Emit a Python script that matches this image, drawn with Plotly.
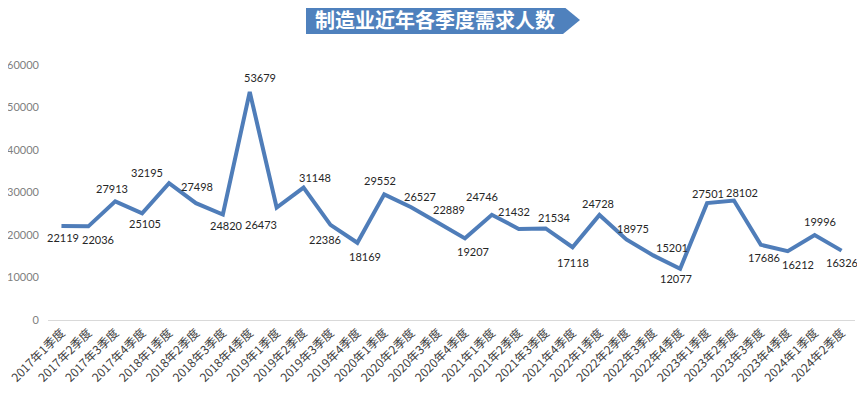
import plotly.graph_objects as go

categories = [
    "2017年1季度", "2017年2季度", "2017年3季度", "2017年4季度",
    "2018年1季度", "2018年2季度", "2018年3季度", "2018年4季度",
    "2019年1季度", "2019年2季度", "2019年3季度", "2019年4季度",
    "2020年1季度", "2020年2季度", "2020年3季度", "2020年4季度",
    "2021年1季度", "2021年2季度", "2021年3季度", "2021年4季度",
    "2022年1季度", "2022年2季度", "2022年3季度", "2022年4季度",
    "2023年1季度", "2023年2季度", "2023年3季度", "2023年4季度",
    "2024年1季度", "2024年2季度",
]
demand = [
    22119, 22036, 27913, 25105,
    32195, 27498, 24820, 53679,
    26473, 31148, 22386, 18169,
    29552, 26527, 22889, 19207,
    24746, 21432, 21534, 17118,
    24728, 18975, 15201, 12077,
    27501, 28102, 17686, 16212,
    19996, 16326,
]
y_ticks = [0, 10000, 20000, 30000, 40000, 50000, 60000]
title_text = "制造业近年各季度需求人数"

# label offsets in pixels (style): (dx right, dy down)
label_offsets = [
    (2, 12), (10, 13), (-3, -13), (3, 10),
    (-22, -11), (1, -17), (4, 11), (10, -14),
    (-16, 17), (11, -10), (-5, 15), (8, 14),
    (-4, -14), (9, -11), (11, -13), (8, 13),
    (-10, -18), (-5, -17), (9, -11), (0, 15),
    (-1, -11), (7, -11), (19, -8), (-4, 10),
    (1, -10), (8, -8), (3, 13), (10, 13),
    (5, -14), (0, 12),
]

# page has an 8px body margin; size the figure to fill the rest
OFF = 8
W, H = 865 - OFF, 395 - OFF
L, R, T, B = 48 - OFF, 10, 65 - OFF, 75
pw, ph = W - L - R, H - T - B


def px(x_page):
    return (x_page - OFF - L) / pw


def py(y_page):
    return (H + OFF - B - y_page) / ph


fig = go.Figure()
fig.add_trace(go.Scatter(
    x=categories, y=demand, mode="lines",
    line=dict(color="#4F7DB9", width=4),
    showlegend=False,
    hoverinfo="x+y",
))

for cat, val, (dx, dy) in zip(categories, demand, label_offsets):
    fig.add_annotation(
        x=cat, y=val, xref="x", yref="y", text=str(val), showarrow=False,
        xshift=dx, yshift=-dy, xanchor="center", yanchor="middle",
        font=dict(family="Lato, Noto Sans, sans-serif", size=11, color="#262626"),
    )

path = (f"M {px(306)} {py(6)} L {px(563)} {py(6)} L {px(580)} {py(20)} "
        f"L {px(563)} {py(34)} L {px(306)} {py(34)} Z")
fig.add_shape(type="path", xref="paper", yref="paper", path=path,
              fillcolor="#4F81BD", line=dict(width=0), layer="below")
fig.add_annotation(
    text=f"<b>{title_text}</b>", xref="paper", yref="paper",
    x=px(435), y=py(20), xanchor="center", yanchor="middle",
    showarrow=False,
    font=dict(family="Noto Sans CJK SC", size=20, color="white"),
)

fig.update_layout(
    width=W, height=H,
    margin=dict(l=L, r=R, t=T, b=B, autoexpand=False),
    paper_bgcolor="white", plot_bgcolor="white",
    xaxis=dict(
        type="category", range=[-0.5, len(categories) - 0.5],
        tickangle=-45, showgrid=False, zeroline=False, automargin=False,
        showline=True, linecolor="#D9D9D9", linewidth=1,
        ticks="", tickfont=dict(family="Noto Sans CJK SC", size=12, color="#404040"),
    ),
    yaxis=dict(
        range=[0, 60000], tickvals=y_ticks, ticktext=[str(v) for v in y_ticks],
        showgrid=False, zeroline=False, showline=False, ticks="", automargin=False,
        ticklabelstandoff=8,
        tickfont=dict(family="Lato, Noto Sans, sans-serif", size=11, color="#808080"),
    ),
    font=dict(family="Noto Sans CJK SC"),
)

fig.write_html("out.html")
